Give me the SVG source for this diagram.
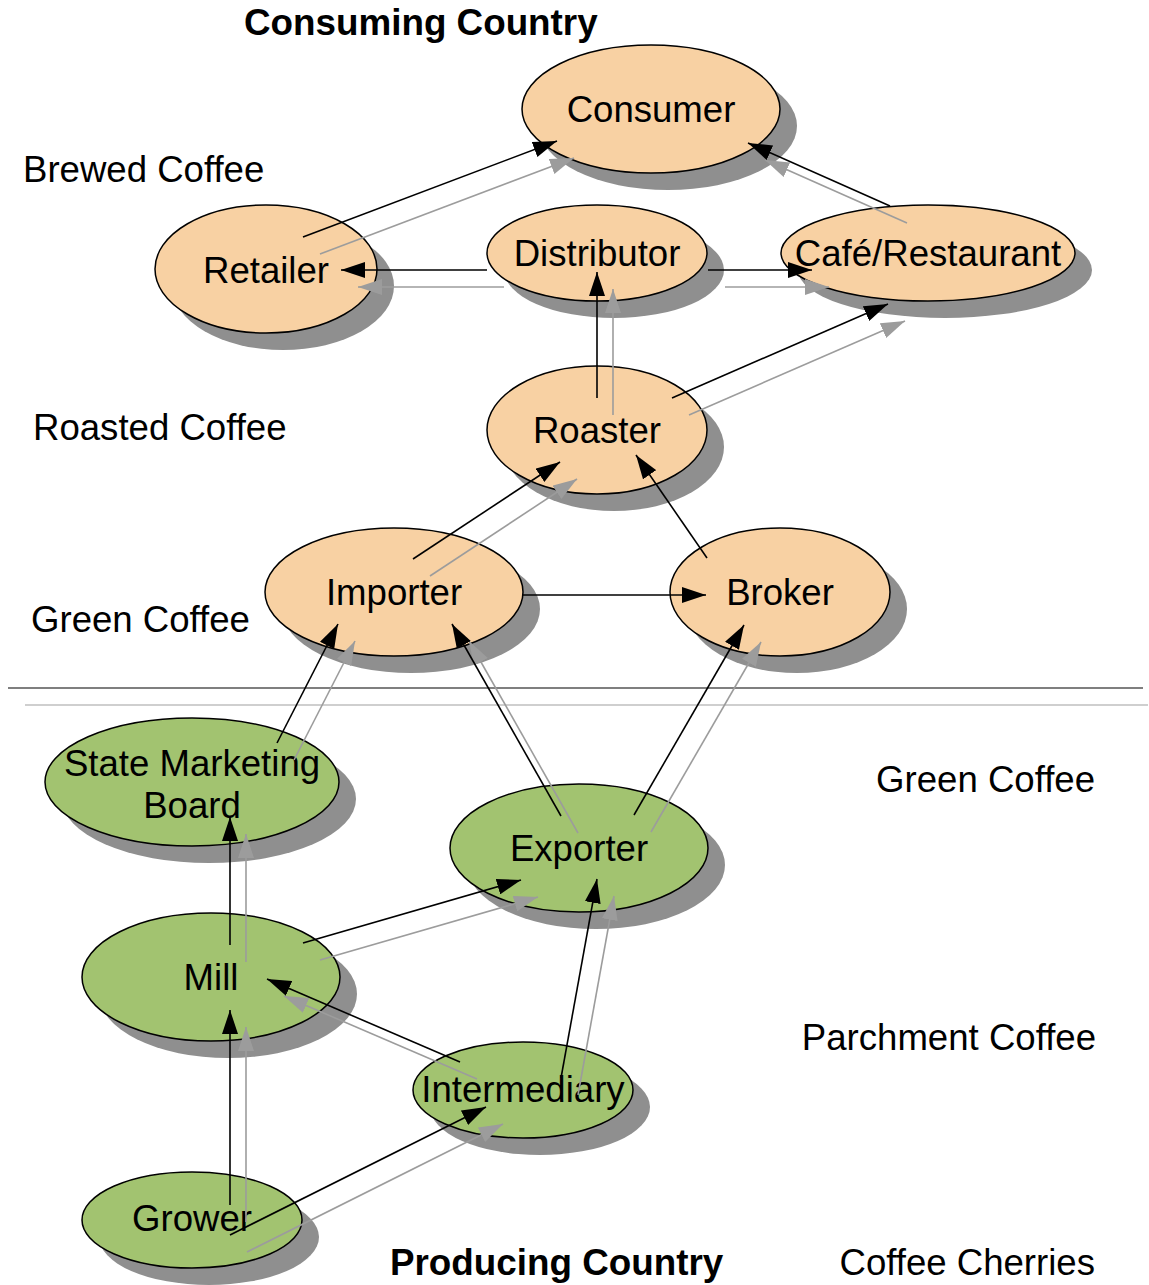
<svg xmlns="http://www.w3.org/2000/svg" width="1149" height="1285" viewBox="0 0 1149 1285">
<style>
text{font-family:"Liberation Sans",Arial,Helvetica,sans-serif;font-size:36.6px;fill:#000}
.lbl{text-anchor:middle}
.title{font-weight:bold;font-size:36.8px}
.end{text-anchor:end}
.sh{fill:#8f8f8f}
.or{fill:#f8d1a3;stroke:#000;stroke-width:1.5}
.gr{fill:#a2c370;stroke:#000;stroke-width:1.5}
.bl{stroke:#000;stroke-width:1.6;fill:none;marker-end:url(#ab)}
.gl{stroke:#9c9c9c;stroke-width:1.6;fill:none;marker-end:url(#ag)}
.sep1{stroke:#000;stroke-width:1.2}
.sep2{stroke:#a0a0a0;stroke-width:1.2}
</style>
<defs>
<marker id="ab" markerUnits="userSpaceOnUse" markerWidth="24" markerHeight="16" refX="24" refY="8" orient="auto" viewBox="0 0 24 16"><path d="M0,0 L24,8 L0,16 z" fill="#000"/></marker>
<marker id="ag" markerUnits="userSpaceOnUse" markerWidth="24" markerHeight="16" refX="24" refY="8" orient="auto" viewBox="0 0 24 16"><path d="M0,0 L24,8 L0,16 z" fill="#9c9c9c"/></marker>
</defs>
<rect width="1149" height="1285" fill="#fff"/>
<g id="labels">
<text class="title" x="244" y="35">Consuming Country</text>
<text x="23" y="182">Brewed Coffee</text>
<text x="33" y="440">Roasted Coffee</text>
<text x="31" y="632">Green Coffee</text>
<text class="end" x="1095" y="792">Green Coffee</text>
<text class="end" x="1096" y="1050">Parchment Coffee</text>
<text class="end" x="1095" y="1275">Coffee Cherries</text>
<text class="title" x="390" y="1275">Producing Country</text>
</g>
<g id="separator">
<line class="sep1" x1="8" y1="688" x2="1143" y2="688"/>
<line class="sep2" x1="25" y1="705" x2="1148" y2="705"/>
</g>
<g id="consumer"><ellipse class="sh" cx="668" cy="126" rx="129" ry="64"/><ellipse class="or" cx="651" cy="109" rx="129" ry="64"/><text class="lbl" x="651" y="122">Consumer</text></g>
<g id="retailer"><ellipse class="sh" cx="283" cy="286" rx="111" ry="64"/><ellipse class="or" cx="266" cy="269" rx="111" ry="64"/><text class="lbl" x="266" y="283">Retailer</text></g>
<g id="distributor"><ellipse class="sh" cx="614" cy="270" rx="110" ry="48"/><ellipse class="or" cx="597" cy="253" rx="110" ry="48"/><text class="lbl" x="597" y="266">Distributor</text></g>
<g id="cafe"><ellipse class="sh" cx="945" cy="270" rx="147" ry="48"/><ellipse class="or" cx="928" cy="253" rx="147" ry="48"/><text class="lbl" x="928" y="266">Café/Restaurant</text></g>
<g id="roaster"><ellipse class="sh" cx="614" cy="447" rx="110" ry="64"/><ellipse class="or" cx="597" cy="430" rx="110" ry="64"/><text class="lbl" x="597" y="443">Roaster</text></g>
<g id="importer"><ellipse class="sh" cx="411" cy="609" rx="129" ry="64"/><ellipse class="or" cx="394" cy="592" rx="129" ry="64"/><text class="lbl" x="394" y="605">Importer</text></g>
<g id="broker"><ellipse class="sh" cx="797" cy="609" rx="110" ry="64"/><ellipse class="or" cx="780" cy="592" rx="110" ry="64"/><text class="lbl" x="780" y="605">Broker</text></g>
<g id="smb"><ellipse class="sh" cx="209" cy="799" rx="147" ry="64"/><ellipse class="gr" cx="192" cy="782" rx="147" ry="64"/><text class="lbl" x="192" y="776">State Marketing</text><text class="lbl" x="192" y="818">Board</text></g>
<g id="exporter"><ellipse class="sh" cx="596" cy="865" rx="129" ry="64"/><ellipse class="gr" cx="579" cy="848" rx="129" ry="64"/><text class="lbl" x="579" y="861">Exporter</text></g>
<g id="mill"><ellipse class="sh" cx="228" cy="994" rx="129" ry="64"/><ellipse class="gr" cx="211" cy="977" rx="129" ry="64"/><text class="lbl" x="211" y="990">Mill</text></g>
<g id="intermediary"><ellipse class="sh" cx="540" cy="1107" rx="110" ry="48"/><ellipse class="gr" cx="523" cy="1090" rx="110" ry="48"/><text class="lbl" x="523" y="1102">Intermediary</text></g>
<g id="grower"><ellipse class="sh" cx="209" cy="1237" rx="110" ry="48"/><ellipse class="gr" cx="192" cy="1220" rx="110" ry="48"/><text class="lbl" x="192" y="1231">Grower</text></g>
<g id="connectors">
<line class="gl" x1="320" y1="254" x2="574" y2="158"/>
<line class="gl" x1="907" y1="223" x2="765" y2="160"/>
<line class="gl" x1="504" y1="287" x2="358" y2="287"/>
<line class="gl" x1="725" y1="287" x2="829" y2="287"/>
<line class="gl" x1="613" y1="415" x2="613" y2="289"/>
<line class="gl" x1="689" y1="415" x2="905" y2="321"/>
<line class="gl" x1="430" y1="576" x2="577" y2="479"/>
<line class="gl" x1="294" y1="760" x2="355" y2="641"/>
<line class="gl" x1="578" y1="833" x2="469" y2="641"/>
<line class="gl" x1="651" y1="832" x2="761" y2="642"/>
<line class="gl" x1="246" y1="962" x2="246" y2="834"/>
<line class="gl" x1="320" y1="960" x2="538" y2="897"/>
<line class="gl" x1="477" y1="1079" x2="284" y2="996"/>
<line class="gl" x1="578" y1="1095" x2="614" y2="896"/>
<line class="gl" x1="246" y1="1222" x2="246" y2="1027"/>
<line class="gl" x1="247" y1="1252" x2="503" y2="1124"/>
<line class="bl" x1="303" y1="237" x2="557" y2="141"/>
<line class="bl" x1="890" y1="206" x2="748" y2="143"/>
<line class="bl" x1="487" y1="270" x2="341" y2="270"/>
<line class="bl" x1="708" y1="270" x2="812" y2="270"/>
<line class="bl" x1="597" y1="398" x2="597" y2="272"/>
<line class="bl" x1="672" y1="398" x2="888" y2="304"/>
<line class="bl" x1="413" y1="559" x2="560" y2="462"/>
<line class="bl" x1="707" y1="558" x2="636" y2="455"/>
<line class="bl" x1="523" y1="595" x2="706" y2="595"/>
<line class="bl" x1="277" y1="743" x2="338" y2="624"/>
<line class="bl" x1="561" y1="816" x2="452" y2="624"/>
<line class="bl" x1="634" y1="815" x2="744" y2="625"/>
<line class="bl" x1="230" y1="945" x2="230" y2="817"/>
<line class="bl" x1="303" y1="943" x2="521" y2="880"/>
<line class="bl" x1="460" y1="1062" x2="267" y2="979"/>
<line class="bl" x1="561" y1="1078" x2="597" y2="879"/>
<line class="bl" x1="230" y1="1205" x2="230" y2="1010"/>
<line class="bl" x1="230" y1="1235" x2="486" y2="1107"/>
</g>
</svg>
